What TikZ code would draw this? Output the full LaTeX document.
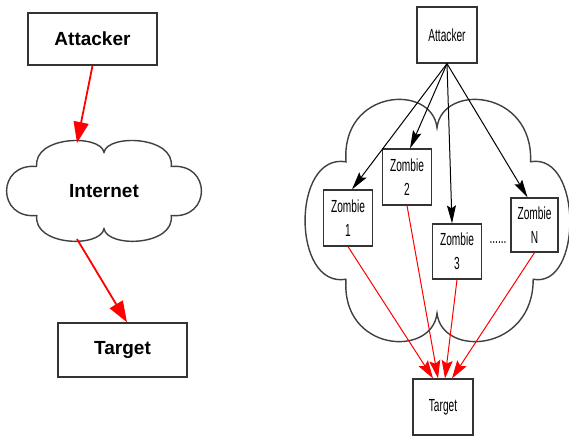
\documentclass[tikz,border=0pt]{standalone}
\usepackage{fontspec}
\setmainfont{Liberation Sans}
\newfontfamily\nfont[FakeStretch=0.58]{Liberation Sans}
\usetikzlibrary{arrows.meta}
\tikzset{
  cloudline/.style={draw=black!75, line width=1.4pt},
  bigbox/.style={draw=black!80, line width=1.4pt, fill=white, minimum width=129pt, inner sep=0pt, font=\fontsize{19}{22}\selectfont\bfseries},
  biglabel/.style={inner sep=0pt, font=\fontsize{19}{22}\selectfont\bfseries},
  smallbox/.style={draw=black!80, line width=1.2pt, fill=white, inner sep=0pt, minimum width=49pt, minimum height=56pt, font=\nfont\fontsize{17.5}{24}\selectfont, align=center},
  smalllabel/.style={inner sep=0pt, font=\nfont\fontsize{17.5}{24}\selectfont},
  redbig/.style={draw=red, line width=1.8pt, -{Triangle[length=21pt,width=15pt]}},
  blackarr/.style={draw=black, line width=1pt, -{Stealth[length=18pt,width=9pt,inset=3pt]}},
  redarr/.style={draw=red, line width=1pt, -{Stealth[length=18pt,width=11pt,inset=3pt]}},
}
\begin{document}
\begin{tikzpicture}[x=1pt,y=-1pt]
\path[use as bounding box] (0,0) rectangle (569,437);
% left cloud
\begin{scope}[shift={(104,191)}, xscale=96, yscale=49]
\draw[cloudline, fill=white] (-0.70,-0.50) .. controls (-0.74,-1.12) and (-0.04,-1.17) .. (0,-0.79)
  .. controls (0.04,-1.17) and (0.74,-1.12) .. (0.70,-0.50)
  .. controls (1.12,-0.58) and (1.12,0.58) .. (0.70,0.50)
  .. controls (0.74,1.12) and (0.04,1.17) .. (0,0.77)
  .. controls (-0.04,1.17) and (-0.74,1.12) .. (-0.70,0.50)
  .. controls (-1.12,0.58) and (-1.12,-0.58) .. cycle;
\end{scope}
% right cloud
\begin{scope}[shift={(437,220.5)}, xscale=130, yscale=117.5]
\draw[cloudline, fill=white] (-0.70,-0.50) .. controls (-0.74,-1.12) and (-0.04,-1.17) .. (0,-0.79)
  .. controls (0.04,-1.17) and (0.74,-1.12) .. (0.72,-0.50)
  .. controls (1.12,-0.58) and (1.12,0.58) .. (0.74,0.50)
  .. controls (0.74,1.12) and (0.04,1.17) .. (0,0.79)
  .. controls (-0.04,1.17) and (-0.74,1.12) .. (-0.70,0.50)
  .. controls (-1.12,0.58) and (-1.12,-0.58) .. cycle;
\end{scope}
% left diagram
\node[bigbox, minimum height=52pt] (att1) at (92.5,39) {Attacker};
\node[biglabel] (inet) at (104,191) {Internet};
\node[bigbox, minimum height=54pt] (tgt1) at (122.5,350) {Target};
\coordinate (ctop) at (77,143);
\coordinate (cbot) at (77,239);
\draw[redbig] (att1.south) -- (ctop);
\draw[redbig] (cbot) -- ([xshift=4.5pt]tgt1.north);
% right diagram
\node[smallbox, minimum width=60pt] (att2) at (447,35) {Attacker};
\node[smallbox] (z1) at (348,218) {Zombie\\1};
\node[smallbox] (z2) at (407,177) {Zombie\\2};
\node[smallbox, minimum height=55pt] (z3) at (457,251.5) {Zombie\\3};
\node[smallbox, minimum width=47pt, minimum height=54pt] (zn) at (534.5,225) {Zombie\\N};
\node[smalllabel] (dots) at (498,243) {......};
\node[smallbox, minimum width=60pt] (tgt2) at (443,407) {Target};
\draw[blackarr] (att2.south) -- ([xshift=4pt]z1.north);
\draw[blackarr] (att2.south) -- ([xshift=3pt]z2.north);
\draw[blackarr] (att2.south) -- ([xshift=-5pt]z3.north);
\draw[blackarr] (att2.south) -- ([xshift=-7pt]zn.north);
\draw[redarr] (z1.south) -- ([xshift=-10pt]tgt2.north);
\draw[redarr] (z2.south) -- ([xshift=-5pt]tgt2.north);
\draw[redarr] (z3.south) -- ([xshift=2pt]tgt2.north);
\draw[redarr] (zn.south) -- ([xshift=9pt]tgt2.north);
\end{tikzpicture}
\end{document}
